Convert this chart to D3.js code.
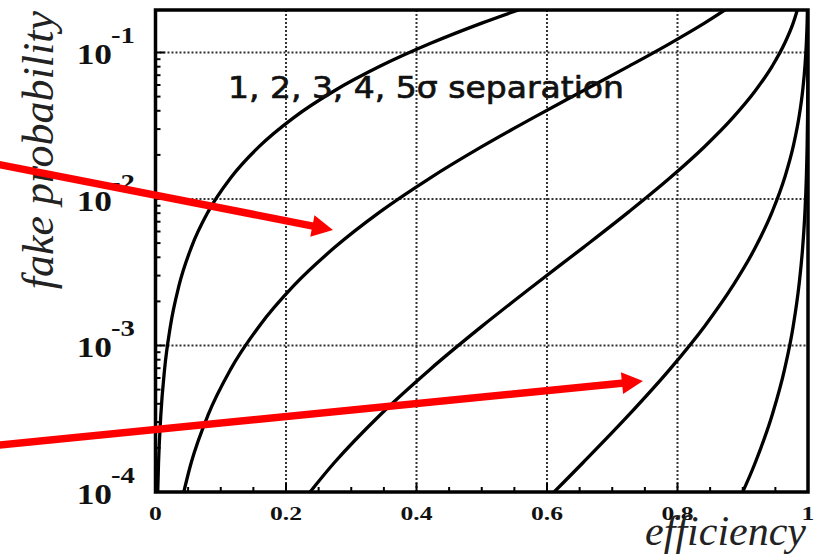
<!DOCTYPE html>
<html><head><meta charset="utf-8">
<script src="https://cdn.jsdelivr.net/npm/d3@7/dist/d3.min.js"></script>
<style>html,body{margin:0;padding:0;background:#fff;} svg{display:block}</style>
</head><body>
<svg id="chart" width="823" height="556"></svg>
<script>
// fake probability sampled along each curve (shared y values)
const fakeProb = [0.0000723, 0.000159, 0.000337, 0.000687, 0.00135, 0.00256, 0.00466, 0.00820,
                  0.01390, 0.02275, 0.03593, 0.05480, 0.08076, 0.11507, 0.15866, 0.21186];
// efficiency read for each separation curve at those fake probabilities
const eff1sigma = [0.00256, 0.00466, 0.00820, 0.01390, 0.02275, 0.03593, 0.05480, 0.08076,
                   0.11507, 0.15866, 0.21186, 0.27425, 0.34458, 0.42074, 0.50000, 0.57926];
const eff2sigma = [0.03593, 0.05480, 0.08076, 0.11507, 0.15866, 0.21186, 0.27425, 0.34458,
                   0.42074, 0.50000, 0.57926, 0.65542, 0.72575, 0.78814, 0.84134, 0.88493];
const eff3sigma = [0.21186, 0.27425, 0.34458, 0.42074, 0.50000, 0.57926, 0.65542, 0.72575,
                   0.78814, 0.84134, 0.88493, 0.91924, 0.94520, 0.96407, 0.97725, 0.98610];
const eff4sigma = [0.57926, 0.65542, 0.72575, 0.78814, 0.84134, 0.88493, 0.91924, 0.94520,
                   0.96407, 0.97725, 0.98610, 0.99180, 0.99534, 0.99744, 0.99865, 0.99931];
const eff5sigma = [0.88493, 0.91924, 0.94520, 0.96407, 0.97725, 0.98610, 0.99180, 0.99534,
                   0.99744, 0.99865, 0.99931, 0.99966, 0.99984, 0.99993, 0.99997, 0.99999];
const seriesEff = [eff1sigma, eff2sigma, eff3sigma, eff4sigma, eff5sigma];

const xTickValues = [0, 0.2, 0.4, 0.6, 0.8, 1];
const xTickLabels = ["0", "0.2", "0.4", "0.6", "0.8", "1"];
const yTickValues = [1e-4, 1e-3, 1e-2, 1e-1];
const yTickExponents = ["-4", "-3", "-2", "-1"];
const annotationText = "1, 2, 3, 4, 5\u03c3 separation";
const annotationAt = [0.111, 0.0488];
const arrowFrom = [[-0.24, 0.0172], [-0.24, 2.09e-4]];
const arrowTo   = [[0.272, 0.00614], [0.747, 5.72e-4]];

const svg = d3.select("#chart");
const L = 155.5, R = 808, T = 10, B = 492;
const x = d3.scaleLinear().domain([0, 1]).range([L, R]);
const y = d3.scaleLog().domain([1e-4, 0.195]).range([B, T]);

svg.append("defs").append("clipPath").attr("id", "plotclip")
  .append("rect").attr("x", L).attr("y", T).attr("width", R - L).attr("height", B - T);

// grid
const grid = svg.append("g");
grid.selectAll("line.gx").data(xTickValues.filter(v => v > 0 && v < 1)).join("line")
  .attr("x1", d => x(d)).attr("x2", d => x(d)).attr("y1", T).attr("y2", B)
  .attr("stroke", "#333").attr("stroke-width", 2).attr("stroke-dasharray", "2,2");
grid.selectAll("line.gy").data(yTickValues.filter(v => v > 1e-4)).join("line")
  .attr("y1", d => y(d)).attr("y2", d => y(d)).attr("x1", L).attr("x2", R)
  .attr("stroke", "#333").attr("stroke-width", 2).attr("stroke-dasharray", "2,2");

// curves
const line = d3.line().x(d => x(d[0])).y(d => y(d[1])).curve(d3.curveMonotoneX);
svg.append("g").attr("clip-path", "url(#plotclip)")
  .selectAll("path").data(seriesEff).join("path")
  .attr("d", eff => line(eff.map((e, i) => [e, fakeProb[i]])))
  .attr("fill", "none").attr("stroke", "#000").attr("stroke-width", 3.3);

// annotation text
svg.append("text").attr("x", x(annotationAt[0])).attr("y", y(annotationAt[1]))
  .attr("font-family", "DejaVu Sans, sans-serif").attr("font-size", 30)
  .attr("textLength", 396).attr("lengthAdjust", "spacingAndGlyphs")
  .attr("fill", "#111").attr("stroke", "#111").attr("stroke-width", 0.7).text(annotationText);

// ticks
const ticks = svg.append("g").attr("stroke", "#000").attr("stroke-width", 2);
const xMinor = d3.range(1, 20).map(i => i * 0.05);
ticks.selectAll("line.xm").data(xMinor).join("line")
  .attr("x1", d => x(d)).attr("x2", d => x(d)).attr("y1", B).attr("y2", d => B - (Math.abs(d * 5 - Math.round(d * 5)) < 1e-6 ? 9 : 5));
const yMinor = [];
[-4, -3, -2, -1].forEach(p => { for (let k = 2; k <= 9; k++) { const v = k * Math.pow(10, p); if (v < 0.195) yMinor.push(v); } });
ticks.selectAll("line.ym").data(yMinor).join("line")
  .attr("y1", d => y(d)).attr("y2", d => y(d)).attr("x1", L).attr("x2", L + 5);
ticks.selectAll("line.yM").data(yTickValues).join("line")
  .attr("y1", d => y(d)).attr("y2", d => y(d)).attr("x1", L).attr("x2", L + 9);

// frame
svg.append("rect").attr("x", L).attr("y", T).attr("width", R - L).attr("height", B - T)
  .attr("fill", "none").attr("stroke", "#000").attr("stroke-width", 3.5);

// x tick labels
svg.append("g").selectAll("text").data(xTickValues).join("text")
  .attr("transform", d => `translate(${x(d)},520) scale(1.35,1)`)
  .attr("text-anchor", "middle").attr("font-family", "Liberation Serif, Times New Roman, serif")
  .attr("font-weight", "bold").attr("font-size", 19).attr("fill", "#111")
  .text((d, i) => xTickLabels[i]);

// y tick labels
const yl = svg.append("g").attr("font-family", "Liberation Serif, Times New Roman, serif")
  .attr("font-weight", "bold").attr("fill", "#111");
yl.selectAll("text.base").data(yTickValues).join("text")
  .attr("transform", d => `translate(112,${y(d) + 12}) scale(1.22,1)`)
  .attr("text-anchor", "end").attr("font-size", 29).text("10");
yl.selectAll("text.exp").data(yTickValues).join("text")
  .attr("transform", d => `translate(111,${y(d) - 9}) scale(1.25,1)`)
  .attr("text-anchor", "start").attr("font-size", 23).text((d, i) => yTickExponents[i]);

// axis titles
svg.append("text").attr("x", 806).attr("y", 545).attr("text-anchor", "end")
  .attr("font-family", "Liberation Serif, Times New Roman, serif").attr("font-style", "italic")
  .attr("font-size", 42).attr("fill", "#222").text("efficiency");
svg.append("text").attr("transform", "translate(53,11) rotate(-90)").attr("text-anchor", "end")
  .attr("font-family", "Liberation Serif, Times New Roman, serif").attr("font-style", "italic")
  .attr("font-size", 44).attr("fill", "#222").text("fake probability");

// red arrows
const arrows = svg.append("g");
arrowFrom.forEach((f, i) => {
  const x0 = x(f[0]), y0 = y(f[1]), x1 = x(arrowTo[i][0]), y1 = y(arrowTo[i][1]);
  const dx = x1 - x0, dy = y1 - y0, len = Math.hypot(dx, dy), ux = dx / len, uy = dy / len;
  const hl = 21, hw = 11;
  const bx = x1 - ux * hl, by = y1 - uy * hl;
  arrows.append("line").attr("x1", x0).attr("y1", y0).attr("x2", bx + ux * 2).attr("y2", by + uy * 2)
    .attr("stroke", "#ff0000").attr("stroke-width", 7.5);
  arrows.append("polygon")
    .attr("points", [[x1, y1], [bx - uy * hw, by + ux * hw], [bx + uy * hw, by - ux * hw]].map(p => p.join(",")).join(" "))
    .attr("fill", "#ff0000");
});
</script>
</body></html>
